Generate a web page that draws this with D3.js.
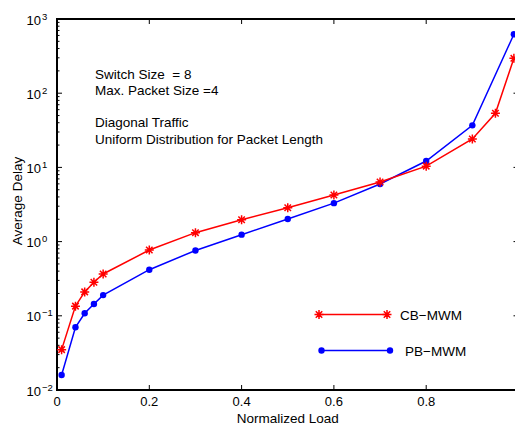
<!DOCTYPE html>
<html>
<head>
<meta charset="utf-8">
<script src="https://cdn.jsdelivr.net/npm/d3@7"></script>
<style>
  body { margin: 0; background: #fff; }
  text { font-family: "Liberation Sans", Arial, Helvetica, sans-serif; fill: #000; white-space: pre; }
</style>
</head>
<body>
<div id="chart"></div>
<script>
// values
const cbLoad  = [0.01, 0.04, 0.06, 0.08, 0.1, 0.2, 0.3, 0.4, 0.5, 0.6, 0.7, 0.8, 0.9, 0.95, 0.99];
const cbDelay = [0.035, 0.135, 0.21, 0.283, 0.366, 0.77, 1.32, 1.97, 2.86, 4.25, 6.35, 10.4, 24.2, 53.6, 295];
const pbLoad  = [0.01, 0.04, 0.06, 0.08, 0.1, 0.2, 0.3, 0.4, 0.5, 0.6, 0.7, 0.8, 0.9, 0.99];
const pbDelay = [0.0159, 0.070, 0.108, 0.144, 0.19, 0.418, 0.76, 1.24, 2.02, 3.3, 5.97, 12.2, 36.9, 622];
const xTicks = [0, 0.2, 0.4, 0.6, 0.8, 1];
const xTickLabels = ["0", "0.2", "0.4", "0.6", "0.8"];   // the 1 label falls outside the cropped figure
const yExps = [-2, -1, 0, 1, 2, 3];
const notes = ["Switch Size  = 8", "Max. Packet Size =4", "", "Diagonal Traffic", "Uniform Distribution for Packet Length"];
const seriesNames = ["CB\u2212MWM", "PB\u2212MWM"];

const width = 515, height = 427;
const plot = {left: 57, right: 518.5, top: 19, bottom: 390};

const svg = d3.select("#chart").append("svg")
  .attr("width", width)
  .attr("height", height);

const x = d3.scaleLinear().domain([0, 1]).range([plot.left, plot.right]);
const y = d3.scaleLog().domain([0.01, 1000]).range([plot.bottom, plot.top]);

// minor ticks on log axis (2..9 in each decade)
const minor = [];
for (let e = -2; e < 3; e++) for (let k = 2; k <= 9; k++) minor.push(k * Math.pow(10, e));

const g = svg.append("g");
g.selectAll("line.minorL").data(minor).enter().append("line")
  .attr("x1", plot.left).attr("x2", plot.left + 2.5)
  .attr("y1", d => y(d)).attr("y2", d => y(d))
  .attr("stroke", "#000").attr("stroke-width", 1);
g.selectAll("line.minorR").data(minor).enter().append("line")
  .attr("x1", plot.right).attr("x2", plot.right - 2.5)
  .attr("y1", d => y(d)).attr("y2", d => y(d))
  .attr("stroke", "#000").attr("stroke-width", 1);

// major y ticks, both sides
yExps.forEach(e => {
  const yy = y(Math.pow(10, e));
  g.append("line").attr("x1", plot.left).attr("x2", plot.left + 5)
    .attr("y1", yy).attr("y2", yy).attr("stroke", "#000").attr("stroke-width", 1);
  g.append("line").attr("x1", plot.right).attr("x2", plot.right - 5)
    .attr("y1", yy).attr("y2", yy).attr("stroke", "#000").attr("stroke-width", 1);
  g.append("text").attr("x", 41).attr("y", yy + 5.5)
    .attr("text-anchor", "end").attr("font-size", "13px").text("10");
  g.append("text").attr("x", 42).attr("y", yy + 0.5)
    .attr("font-size", "9.5px").text(e < 0 ? "\u2212" + (-e) : String(e));
});

// x ticks, bottom and top
xTicks.forEach(t => {
  const xx = x(t);
  g.append("line").attr("x1", xx).attr("x2", xx)
    .attr("y1", plot.bottom).attr("y2", plot.bottom - 5).attr("stroke", "#000").attr("stroke-width", 1);
  g.append("line").attr("x1", xx).attr("x2", xx)
    .attr("y1", plot.top).attr("y2", plot.top + 5).attr("stroke", "#000").attr("stroke-width", 1);
});
g.selectAll("text.xl").data(xTickLabels).enter().append("text")
  .attr("x", d => x(+d)).attr("y", 406)
  .attr("text-anchor", "middle").attr("font-size", "13px").text(d => d);

// axes box
g.append("rect")
  .attr("x", plot.left).attr("y", plot.top)
  .attr("width", plot.right - plot.left).attr("height", plot.bottom - plot.top)
  .attr("fill", "none").attr("stroke", "#000").attr("stroke-width", 2);

// axis titles
svg.append("text").attr("x", x(0.5)).attr("y", 423)
  .attr("text-anchor", "middle").attr("font-size", "13.5px").text("Normalized Load");
svg.append("text")
  .attr("transform", "translate(22,201) rotate(-90)")
  .attr("text-anchor", "middle").attr("font-size", "13.5px").text("Average Delay");

// annotation block
svg.append("g").selectAll("text").data(notes).enter().append("text")
  .attr("x", 95).attr("y", (d, i) => 78.5 + i * 16.3)
  .attr("font-size", "13.5px").text(d => d);

const line = d3.line().x(d => x(d[0])).y(d => y(d[1]));
const cb = cbLoad.map((v, i) => [v, cbDelay[i]]);
const pb = pbLoad.map((v, i) => [v, pbDelay[i]]);

function star(sel, cx, cy) {
  const r = 4.5, d = r * 0.72;
  const path = `M${cx - r},${cy}L${cx + r},${cy}M${cx},${cy - r}L${cx},${cy + r}` +
    `M${cx - d},${cy - d}L${cx + d},${cy + d}M${cx - d},${cy + d}L${cx + d},${cy - d}`;
  sel.append("path").attr("d", path).attr("stroke", "#ff0000").attr("stroke-width", 1.5).attr("fill", "none");
}

// PB-MWM
svg.append("path").datum(pb).attr("d", line)
  .attr("fill", "none").attr("stroke", "#0000ff").attr("stroke-width", 1.5);
svg.selectAll("circle.pb").data(pb).enter().append("circle")
  .attr("cx", d => x(d[0])).attr("cy", d => y(d[1])).attr("r", 3.2).attr("fill", "#0000ff");

// CB-MWM
svg.append("path").datum(cb).attr("d", line)
  .attr("fill", "none").attr("stroke", "#ff0000").attr("stroke-width", 1.5);
const stars = svg.append("g");
cb.forEach(d => star(stars, x(d[0]), y(d[1])));

// legend
const leg = svg.append("g");
leg.append("line").attr("x1", 319).attr("x2", 387).attr("y1", 314.5).attr("y2", 314.5)
  .attr("stroke", "#ff0000").attr("stroke-width", 1.5);
star(leg, 319, 314.5); star(leg, 387, 314.5);
leg.append("text").attr("x", 400).attr("y", 320).attr("font-size", "13.5px").text(seriesNames[0]);
leg.append("line").attr("x1", 321.5).attr("x2", 390).attr("y1", 350.5).attr("y2", 350.5)
  .attr("stroke", "#0000ff").attr("stroke-width", 1.5);
leg.append("circle").attr("cx", 321.5).attr("cy", 350.5).attr("r", 3.2).attr("fill", "#0000ff");
leg.append("circle").attr("cx", 390).attr("cy", 350.5).attr("r", 3.2).attr("fill", "#0000ff");
leg.append("text").attr("x", 405).attr("y", 356).attr("font-size", "13.5px").text(seriesNames[1]);
</script>
</body>
</html>
